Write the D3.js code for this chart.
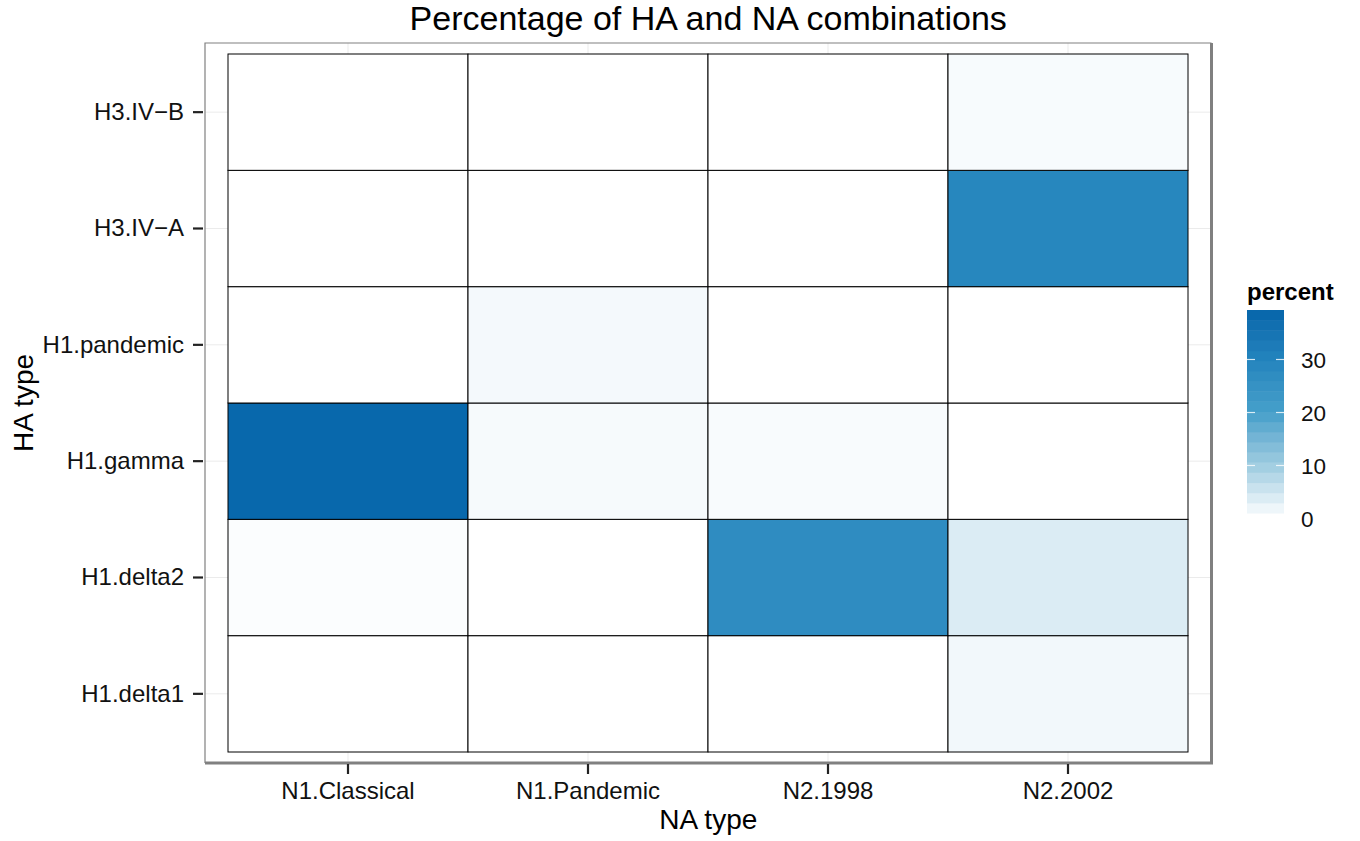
<!DOCTYPE html>
<html>
<head>
<meta charset="utf-8">
<script src="https://cdn.jsdelivr.net/npm/d3@7"></script>
<style>
  html, body { margin: 0; padding: 0; background: #fff; }
  svg { display: block; font-family: "Liberation Sans", Arial, sans-serif; }
</style>
</head>
<body>
<svg id="chart" width="1360" height="841"></svg>
<script>
// Neuraminidase types along x, haemagglutinin types along y (bottom to top)
const naTypes = ["N1.Classical", "N1.Pandemic", "N2.1998", "N2.2002"];
const haTypes = ["H1.delta1", "H1.delta2", "H1.gamma", "H1.pandemic", "H3.IV\u2212A", "H3.IV\u2212B"];

// Percentage of each HA/NA pairing, one row per HA type, columns follow naTypes
const pctDelta1   = [0,    0,   0,    1.5];
const pctDelta2   = [0.5,  0,   27.0, 4.0];
const pctGamma    = [38.5, 1.1, 0.8,  0];
const pctPandemic = [0,    1.3, 0,    0];
const pctIVA      = [0,    0,   0,    29.0];
const pctIVB      = [0,    0,   0,    0.9];
const pctRows = [pctDelta1, pctDelta2, pctGamma, pctPandemic, pctIVA, pctIVB];

// Colour bar labels
const legendTicks = [0, 10, 20, 30];

const cells = [];
haTypes.forEach((ha, i) => {
  naTypes.forEach((na, j) => cells.push({ ha, na, percent: pctRows[i][j] }));
});

const svg = d3.select("#chart");

// Panel and tile area
const panel = { left: 205, top: 43, right: 1211.5, bottom: 763 };
const tiles = { left: 228, top: 54, right: 1188, bottom: 752 };

const x = d3.scaleBand().domain(naTypes).range([tiles.left, tiles.right]).padding(0);
const y = d3.scaleBand().domain(haTypes).range([tiles.bottom, tiles.top]).padding(0);

const maxPct = d3.max(cells, d => d.percent);
const color = d3.scaleLinear()
  .domain([0, 2, 10, 20, 30, maxPct])
  .range(["#ffffff", "#eef6fa", "#9fcde1", "#45a0ca", "#2384bd", "#0868ac"])
  .interpolate(d3.interpolateLab)
  .clamp(true);

// Panel background and grid lines
svg.append("rect")
  .attr("x", panel.left).attr("y", panel.top)
  .attr("width", panel.right - panel.left).attr("height", panel.bottom - panel.top)
  .attr("fill", "#fff");

const grid = svg.append("g").attr("stroke", "#ebebeb").attr("stroke-width", 1);
grid.selectAll("line.v").data(naTypes).join("line")
  .attr("class", "v")
  .attr("x1", d => x(d) + x.bandwidth() / 2).attr("x2", d => x(d) + x.bandwidth() / 2)
  .attr("y1", panel.top).attr("y2", panel.bottom);
grid.selectAll("line.h").data(haTypes).join("line")
  .attr("class", "h")
  .attr("y1", d => y(d) + y.bandwidth() / 2).attr("y2", d => y(d) + y.bandwidth() / 2)
  .attr("x1", panel.left).attr("x2", panel.right);

// Heat-map tiles
svg.append("g").selectAll("rect").data(cells).join("rect")
  .attr("x", d => x(d.na))
  .attr("y", d => y(d.ha))
  .attr("width", x.bandwidth())
  .attr("height", y.bandwidth())
  .attr("fill", d => color(d.percent))
  .attr("stroke", "#000")
  .attr("stroke-width", 1);

// Panel border: thin top/left, heavier right/bottom
const border = svg.append("g").attr("stroke", "#808080").attr("fill", "none");
border.append("path")
  .attr("d", `M${panel.right},${panel.top}H${panel.left}V${panel.bottom}`)
  .attr("stroke-width", 1.2);
border.append("path")
  .attr("d", `M${panel.left},${panel.bottom}H${panel.right}V${panel.top}`)
  .attr("stroke-width", 3);

// Axes
const yAxis = svg.append("g")
  .attr("transform", `translate(${panel.left - 2},0)`)
  .call(d3.axisLeft(y).tickSize(10).tickPadding(9));
const xAxis = svg.append("g")
  .attr("transform", `translate(0,${panel.bottom + 1})`)
  .call(d3.axisBottom(x).tickSize(10).tickPadding(8));
[xAxis, yAxis].forEach(a => {
  a.select(".domain").remove();
  a.selectAll(".tick line").attr("stroke", "#222").attr("stroke-width", 2.2);
  a.selectAll(".tick text")
    .attr("fill", "#111")
    .style("font-size", "24px")
    .style("font-family", "'Liberation Sans', Arial, sans-serif");
});

// Titles
svg.append("text")
  .attr("x", (panel.left + panel.right) / 2).attr("y", 30)
  .attr("text-anchor", "middle")
  .style("font-size", "34px").attr("fill", "#000")
  .text("Percentage of HA and NA combinations");

svg.append("text")
  .attr("x", (panel.left + panel.right) / 2).attr("y", 829)
  .attr("text-anchor", "middle")
  .style("font-size", "28px").attr("fill", "#000")
  .text("NA type");

svg.append("text")
  .attr("transform", `translate(33,${(panel.top + panel.bottom) / 2}) rotate(-90)`)
  .attr("text-anchor", "middle")
  .style("font-size", "28px").attr("fill", "#000")
  .text("HA type");

// Colour bar legend
const leg = { left: 1247, right: 1284, top: 310, bottom: 513, nbin: 20 };
const yLeg = d3.scaleLinear().domain([0, 30]).range([518.5, 359.5]);
const binH = (leg.bottom - leg.top) / leg.nbin;
const bins = d3.range(leg.nbin).map(i => leg.bottom - (i + 0.5) * binH);

svg.append("text")
  .attr("x", leg.left).attr("y", 300)
  .style("font-size", "24px").style("font-weight", "bold").attr("fill", "#000")
  .text("percent");

svg.append("g").selectAll("rect").data(bins).join("rect")
  .attr("x", leg.left)
  .attr("y", d => d - binH / 2)
  .attr("width", leg.right - leg.left)
  .attr("height", binH + 0.5)
  .attr("fill", d => color(yLeg.invert(d)));

const onBar = legendTicks.filter(t => yLeg(t) >= leg.top && yLeg(t) <= leg.bottom);
const tickG = svg.append("g").attr("stroke", "#fff").attr("stroke-opacity", 0.8).attr("stroke-width", 1.2);
tickG.selectAll("line.l").data(onBar).join("line")
  .attr("x1", leg.left).attr("x2", leg.left + 8)
  .attr("y1", d => yLeg(d)).attr("y2", d => yLeg(d));
tickG.selectAll("line.r").data(onBar).join("line")
  .attr("x1", leg.right - 8).attr("x2", leg.right)
  .attr("y1", d => yLeg(d)).attr("y2", d => yLeg(d));

svg.append("g").selectAll("text").data(legendTicks).join("text")
  .attr("x", 1301)
  .attr("y", d => yLeg(d))
  .attr("dy", "0.36em")
  .style("font-size", "22.5px").attr("fill", "#111")
  .text(d => d);
</script>
</body>
</html>
